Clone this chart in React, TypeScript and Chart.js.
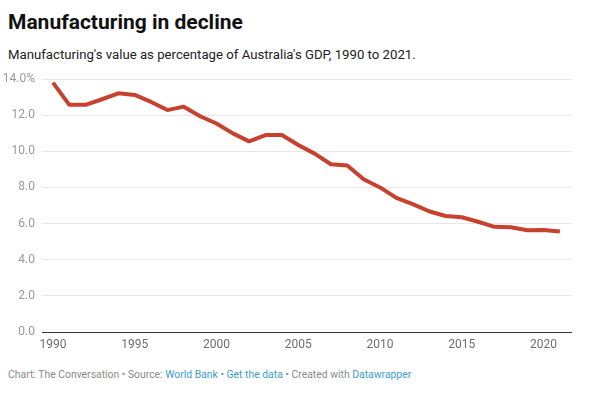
import React, { useEffect, useRef } from "react";
import { Chart, registerables } from "chart.js";

Chart.register(...registerables);

const years: number[] = [
  1990, 1991, 1992, 1993, 1994, 1995, 1996, 1997, 1998, 1999, 2000, 2001, 2002, 2003, 2004, 2005,
  2006, 2007, 2008, 2009, 2010, 2011, 2012, 2013, 2014, 2015, 2016, 2017, 2018, 2019, 2020, 2021,
];
const manufacturingShare: number[] = [
  13.8, 12.57, 12.57, 12.88, 13.21, 13.12, 12.73, 12.28, 12.47, 11.94, 11.54, 10.99, 10.55, 10.9, 10.9, 10.35,
  9.87, 9.28, 9.21, 8.45, 8.0, 7.42, 7.08, 6.68, 6.42, 6.35, 6.1, 5.82, 5.8, 5.63, 5.65, 5.56,
];
const xTickYears: number[] = [1990, 1995, 2000, 2005, 2010, 2015, 2020];
const yTickValues: number[] = [0, 2, 4, 6, 8, 10, 12, 14];

const title = "Manufacturing in decline";
const subtitle = "Manufacturing's value as percentage of Australia's GDP, 1990 to 2021.";

export default function App() {
  const canvasRef = useRef<HTMLCanvasElement | null>(null);

  useEffect(() => {
    if (!canvasRef.current) return;
    const chart = new Chart(canvasRef.current, {
      type: "line",
      data: {
        datasets: [
          {
            data: years.map((y, i) => ({ x: y, y: manufacturingShare[i] })),
            borderColor: "#c8412f",
            borderWidth: 4,
            pointRadius: 0,
            tension: 0,
            fill: false,
            borderJoinStyle: "round",
            borderCapStyle: "butt",
          },
        ],
      },
      options: {
        animation: false,
        responsive: false,
        maintainAspectRatio: false,
        layout: { padding: { top: 18, right: 28, bottom: 0, left: 0 } },
        plugins: { legend: { display: false }, tooltip: { enabled: false }, title: { display: false } },
        scales: {
          x: {
            type: "linear",
            min: 1989.33,
            max: 2021.74,
            grid: { display: false, drawTicks: false },
            border: { display: false },
            afterBuildTicks: (scale: any) => {
              scale.ticks = xTickYears.map((v) => ({ value: v }));
            },
            afterFit: (scale: any) => {
              scale.height = 29;
            },
            ticks: {
              padding: 6,
              color: "#6e6e6e",
              font: { family: "Roboto", size: 12 },
              maxRotation: 0,
              autoSkip: false,
              callback: (v: any) => String(v),
            },
          },
          y: {
            type: "linear",
            min: 0,
            max: 14,
            grid: {
              color: (ctx: any) => (ctx.tick && ctx.tick.value === 0 ? "#333333" : "#e6e6e6"),
              lineWidth: 1,
              drawTicks: false,
            },
            border: { display: false },
            afterBuildTicks: (scale: any) => {
              scale.ticks = yTickValues.map((v) => ({ value: v }));
            },
            afterFit: (scale: any) => {
              scale.width = 42;
            },
            ticks: {
              padding: 7,
              color: "#9a9a9a",
              font: { family: "Roboto", size: 12 },
              callback: (v: any) => (Number(v) === 14 ? "14.0%" : Number(v).toFixed(1)),
            },
          },
        },
      },
    });
    return () => chart.destroy();
  }, []);

  const grey = "#8a8a8a";
  const blue = "#3d9bd1";

  return (
    <div
      style={{
        position: "absolute",
        left: 0,
        top: 0,
        width: 600,
        height: 395,
        background: "#ffffff",
        fontFamily: "Roboto, 'Noto Sans', sans-serif",
        overflow: "hidden",
      }}
    >
      <div
        style={{
          position: "absolute",
          left: 8,
          top: 10,
          fontSize: 21,
          fontWeight: 700,
          color: "#111",
          lineHeight: "25px",
          whiteSpace: "nowrap",
        }}
      >
        {title}
      </div>
      <div
        style={{
          position: "absolute",
          left: 8,
          top: 46,
          fontSize: 13.2,
          color: "#222",
          lineHeight: "17px",
          whiteSpace: "nowrap",
        }}
      >
        {subtitle}
      </div>
      <canvas
        ref={canvasRef}
        width={600}
        height={300}
        style={{ position: "absolute", left: 0, top: 61, width: 600, height: 300 }}
      />
      <div
        style={{
          position: "absolute",
          left: 8,
          top: 368,
          fontSize: 10.4,
          color: grey,
          lineHeight: "14px",
          whiteSpace: "nowrap",
        }}
      >
        <span>Chart: The Conversation • Source: </span>
        <span style={{ color: blue }}>World Bank</span>
        <span> • </span>
        <span style={{ color: blue }}>Get the data</span>
        <span> • Created with </span>
        <span style={{ color: blue }}>Datawrapper</span>
      </div>
    </div>
  );
}
